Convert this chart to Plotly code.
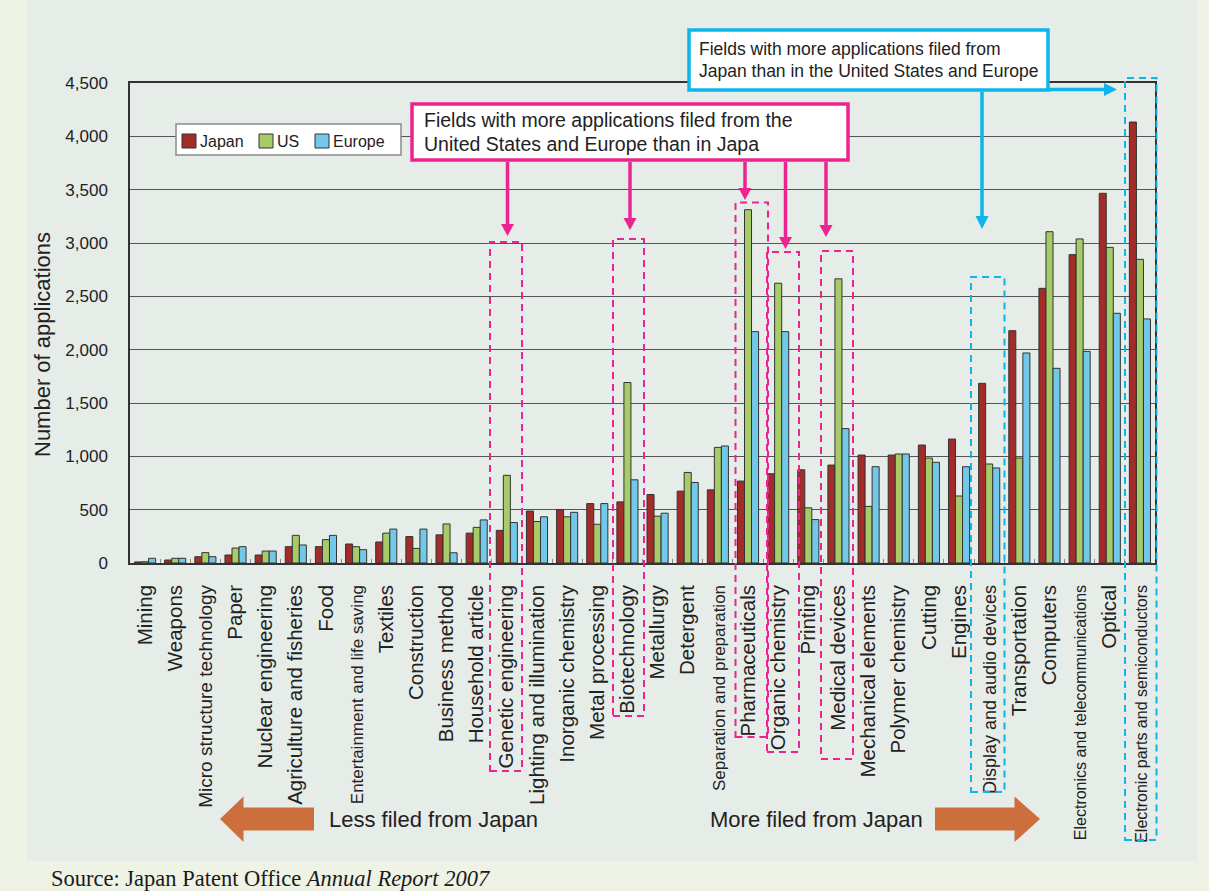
import plotly.graph_objects as go

W, H = 1209, 891

# Technical fields, ordered from least to most filed from Japan
fields = [
    "Mining", "Weapons", "Micro structure technology", "Paper", "Nuclear engineering",
    "Agriculture and fisheries", "Food", "Entertainment and life saving", "Textiles",
    "Construction", "Business method", "Household article", "Genetic engineering",
    "Lighting and illumination", "Inorganic chemistry", "Metal processing",
    "Biotechnology", "Metallurgy", "Detergent", "Separation and preparation",
    "Pharmaceuticals", "Organic chemistry", "Printing", "Medical devices",
    "Mechanical elements", "Polymer chemistry", "Cutting", "Engines",
    "Display and audio devices", "Transportation", "Computers",
    "Electronics and telecommunications", "Optical", "Electronic parts and semiconductors",
]

japan = [10, 28, 59, 75, 75, 153, 153, 178, 197, 248, 264, 280, 306, 487, 500, 557,
         573, 642, 674, 686, 768, 837, 874, 918, 1012, 1012, 1106, 1162, 1684, 2178,
         2575, 2891, 3466, 4134]
us = [12, 44, 97, 140, 112, 259, 219, 153, 280, 137, 366, 334, 822, 389, 433, 363,
      1692, 439, 849, 1084, 3312, 2623, 517, 2664, 531, 1022, 984, 628, 928, 984,
      3106, 3038, 2959, 2847]
europe = [44, 44, 59, 153, 112, 169, 259, 125, 318, 318, 96, 404, 379, 433, 475, 557,
          780, 467, 755, 1097, 2169, 2169, 407, 1260, 903, 1022, 944, 903, 891, 1969,
          1825, 1984, 2341, 2288]

y_ticks = [0, 500, 1000, 1500, 2000, 2500, 3000, 3500, 4000, 4500]

# long labels are set in a smaller size
small_labels = {
    "Micro structure technology": 19,
    "Entertainment and life saving": 17,
    "Separation and preparation": 17,
    "Display and audio devices": 18,
    "Electronics and telecommunications": 16,
    "Electronic parts and semiconductors": 16,
}
tick_text = [
    f'<span style="font-size:{small_labels[f]}px">{f}</span>' if f in small_labels else f
    for f in fields
]

COL_JP, COL_US, COL_EU = "#A12C2A", "#A7CB69", "#72C8E8"
PINK, BLUE, ORANGE = "#EC2490", "#0DB5EA", "#CD6F3D"
FONT = "Liberation Sans, Arial, sans-serif"


def px(x):
    return x / W


def py(y):
    return 1 - y / H


fig = go.Figure()
for name, vals, col in [("Japan", japan, COL_JP), ("US", us, COL_US), ("Europe", europe, COL_EU)]:
    fig.add_trace(go.Bar(
        x=fields, y=vals, name=name,
        marker=dict(color=col, line=dict(color="#333333", width=1)),
    ))

shapes = []
annotations = []

# background panel
shapes.append(dict(type="rect", xref="paper", yref="paper", layer="below",
                   x0=px(27), x1=px(1198), y0=py(861), y1=py(0),
                   fillcolor="#E6ECE8", line=dict(width=0)))


def rect(x0, y0, x1, y1, color, width, dash="solid", fill="rgba(0,0,0,0)"):
    shapes.append(dict(type="rect", xref="paper", yref="paper", layer="above",
                       x0=px(x0), x1=px(x1), y0=py(y1), y1=py(y0),
                       fillcolor=fill, line=dict(color=color, width=width, dash=dash)))


def poly(points, color):
    d = "M " + " L ".join(f"{px(a):.6f},{py(b):.6f}" for a, b in points) + " Z"
    shapes.append(dict(type="path", xref="paper", yref="paper", layer="above",
                       path=d, fillcolor=color, line=dict(width=0)))


def vline(x, y0, y1, color, width):
    shapes.append(dict(type="line", xref="paper", yref="paper", layer="above",
                       x0=px(x), x1=px(x), y0=py(y0), y1=py(y1),
                       line=dict(color=color, width=width)))


def text(x, y, s, size, color="#222222", xanchor="left", family=FONT):
    annotations.append(dict(xref="paper", yref="paper", x=px(x), y=py(y), text=s,
                            showarrow=False, xanchor=xanchor, yanchor="middle",
                            font=dict(family=family, size=size, color=color)))


# legend
rect(176, 124, 401, 155, "#8A8A8A", 1.5, fill="white")
for x0, label, col in [(182, "Japan", COL_JP), (259, "US", COL_US), (315, "Europe", COL_EU)]:
    rect(x0, 134, x0 + 14, 148, "#333333", 1, fill=col)
    text(x0 + 16, 141, label, 16)

# pink call-out and its arrows
rect(412, 104, 848, 160, PINK, 3.5, fill="white")
text(422, 120, "Fields with more applications filed from the", 19.5)
text(422, 144, "United States and Europe than in Japa", 19.5)
for x, tip in [(507.5, 236), (630, 230), (745, 200), (785.5, 249), (826, 237)]:
    vline(x, 162, tip - 10, PINK, 3.5)
    poly([(x - 6.5, tip - 12), (x + 6.5, tip - 12), (x, tip)], PINK)

# dashed frames around fields filed more from the US and Europe
for x0, y0, x1, y1 in [(490, 242, 522, 771), (613, 239, 644, 716), (735.5, 202.5, 768, 737),
                       (767, 252, 799, 752), (821, 251, 853, 759)]:
    rect(x0, y0, x1, y1, PINK, 2, dash="7px,5px")

# blue call-out and its arrows
rect(689, 30, 1048, 90, BLUE, 3.5, fill="white")
text(697, 49, "Fields with more applications filed from", 17.5)
text(697, 71, "Japan than in the United States and Europe", 17.5)
vline(982, 92, 219, BLUE, 3.5)
poly([(975.5, 216), (988.5, 216), (982, 229)], BLUE)
shapes.append(dict(type="line", xref="paper", yref="paper", layer="above",
                   x0=px(1048), x1=px(1106), y0=py(89.5), y1=py(89.5),
                   line=dict(color=BLUE, width=3.5)))
poly([(1104, 83), (1104, 96), (1117, 89.5)], BLUE)

# dashed frames around fields filed more from Japan
rect(971, 277, 1004.5, 792, BLUE, 2, dash="7px,5px")
rect(1125, 78, 1156.5, 840, BLUE, 2, dash="7px,5px")

# direction arrows beneath the labels
poly([(220, 819), (243.5, 796.5), (243.5, 807.5), (314, 807.5), (314, 830.5),
      (243.5, 830.5), (243.5, 842)], ORANGE)
poly([(1040, 819), (1014.5, 796.5), (1014.5, 807.5), (935, 807.5), (935, 830.5),
      (1014.5, 830.5), (1014.5, 842)], ORANGE)
text(327, 819, "Less filed from Japan", 22)
text(708, 819, "More filed from Japan", 22)

# y axis title
annotations.append(dict(xref="paper", yref="paper", x=px(42), y=py(345),
                        text="Number of applications", textangle=-90, showarrow=False,
                        xanchor="center", yanchor="middle",
                        font=dict(family=FONT, size=22, color="#222222")))

# source line
annotations.append(dict(xref="paper", yref="paper", x=px(49), y=py(878),
                        text="Source: Japan Patent Office <i>Annual Report 2007</i>",
                        showarrow=False, xanchor="left", yanchor="middle",
                        font=dict(family="Liberation Serif, Times New Roman, serif",
                                  size=22.5, color="#1a1a1a")))

fig.update_layout(
    width=W, height=H,
    margin=dict(l=0, r=0, t=0, b=0, autoexpand=False),
    paper_bgcolor="#EEF3E6",
    plot_bgcolor="white",
    barmode="group", bargap=0.3, bargroupgap=0,
    showlegend=False,
    font=dict(family=FONT, color="#222222"),
    xaxis=dict(
        domain=[px(130), px(1155)], type="category",
        tickmode="array", tickvals=fields, ticktext=tick_text,
        tickangle=-90, tickfont=dict(size=20.5, family=FONT, color="#222222"),
        ticks="inside", tickson="boundaries", ticklen=4, tickcolor="#888888",
        ticklabelstandoff=12,
        showline=True, mirror=True, linecolor="#333333", linewidth=1.5,
        showgrid=False,
    ),
    yaxis=dict(
        domain=[py(563), py(83)], range=[0, 4500],
        tickmode="array", tickvals=y_ticks, tickformat=",",
        tickfont=dict(size=17, family=FONT, color="#222222"),
        ticklabelstandoff=17,
        showgrid=True, gridcolor="#555555", gridwidth=1.3,
        showline=True, mirror=True, linecolor="#333333", linewidth=1.5,
        zeroline=False,
    ),
    shapes=shapes,
    annotations=annotations,
)

fig.write_html("out.html")
